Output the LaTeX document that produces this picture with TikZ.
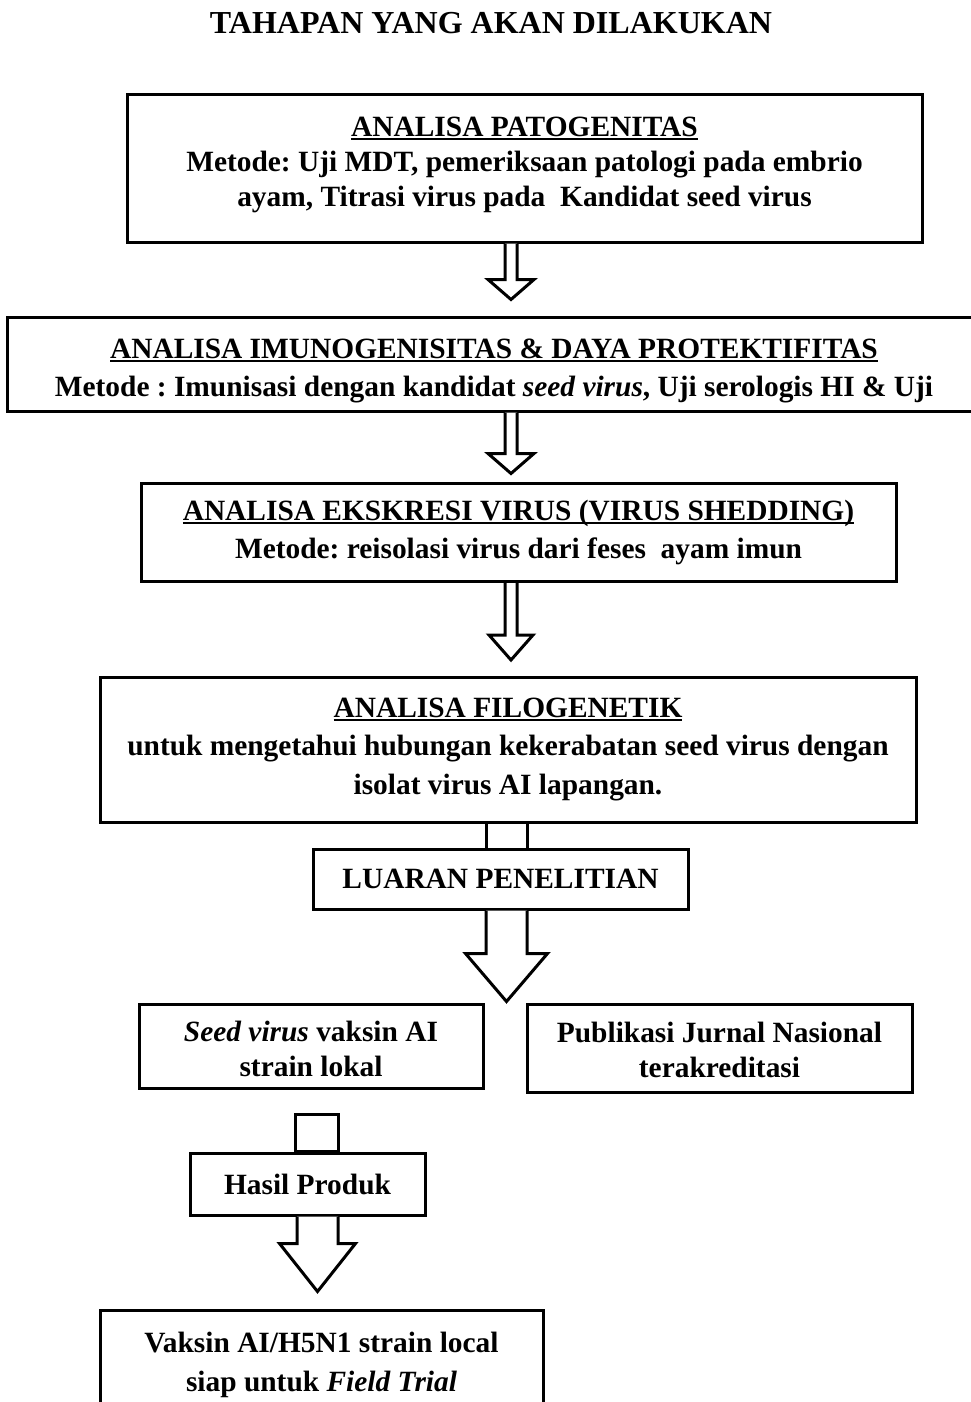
\documentclass[tikz,border=0pt]{standalone}
\usepackage{fontspec}
\setmainfont{Liberation Serif}
\frenchspacing
\usetikzlibrary{positioning,calc}

% thick underline for the stage titles
\newcommand{\garis}[1]{\setbox0\hbox{#1}\rlap{\rule[-4pt]{\wd0}{2pt}}\box0}
% hollow block arrow below a node: start node, x, shaft half width, head half width, shaft length, head length
\newcommand{\hollowarrow}[6]{%
  \draw[arrowline, shift={(#1.south -| #2,0)}]
    (-#3,0) -- (-#3,#5) -- (-#4,#5) -- (0,#5+#6) -- (#4,#5) -- (#3,#5) -- (#3,0);}

\begin{document}
\begin{tikzpicture}[x=1pt, y=-1pt,
      every node/.style={font=\bfseries\fontsize{29.4}{38.5}\selectfont, align=center},
      tight/.style={font=\bfseries\fontsize{29.4}{35}\selectfont},
      stage/.style={draw, line width=3pt, inner sep=0pt},
      arrowline/.style={draw, line width=3pt, line join=miter, fill=white}
  ]
    \useasboundingbox (0,0) rectangle (971,1402);
    \clip (0,0) rectangle (971,1402);

    \node[font=\bfseries\fontsize{32}{38}\selectfont] (judul) at (491,23) {TAHAPAN YANG AKAN DILAKUKAN};

    \node[stage, tight, minimum width=795, minimum height=147] (patogen) at (524.5,168.5)
      {\garis{ANALISA PATOGENITAS}\\Metode: Uji MDT, pemeriksaan patologi pada embrio\\ayam, Titrasi virus pada \ Kandidat seed virus\vrule width0pt depth14pt};
    \node[stage, minimum width=974, minimum height=94] (imuno) at (494,364)
      {\vrule width0pt height33pt\garis{ANALISA IMUNOGENISITAS \& DAYA PROTEKTIFITAS}\\Metode : Imunisasi dengan kandidat \textit{seed virus}, Uji serologis HI \& Uji};
    \node[stage, minimum width=755, minimum height=98] (ekskresi) at (518.5,532.5)
      {\garis{ANALISA EKSKRESI VIRUS (VIRUS SHEDDING)}\\Metode: reisolasi virus dari feses \ ayam imun};
    \node[stage, minimum width=816, minimum height=145] (filogen) at (508,749.5)
      {\garis{ANALISA FILOGENETIK}\\untuk mengetahui hubungan kekerabatan seed virus dengan\\isolat virus AI lapangan.};
    \node[stage, minimum width=375, minimum height=60] (luaran) at (500.5,879) {LUARAN PENELITIAN};
    \node[stage, tight, minimum width=344, minimum height=84] (seedvirus) at (311,1046)
      {\vrule width0pt height26pt\textit{Seed virus} vaksin AI\\strain lokal};
    \node[stage, tight, minimum width=385, minimum height=88] (publikasi) at (719.5,1048)
      {\vrule width0pt height24pt Publikasi Jurnal Nasional\\terakreditasi};
    \node[stage, minimum width=235, minimum height=62] (hasil) at (307.5,1184) {Hasil Produk};
    \node[stage, minimum width=443, minimum height=110] (vaksin) at (321.5,1365)
      {Vaksin AI/H5N1 strain local\\siap untuk \textit{Field Trial}};

    % arrows between the stages
    \hollowarrow{patogen}{511}{6}{23}{36}{20}
    \hollowarrow{imuno}{511}{6}{23}{41}{20}
    \hollowarrow{ekskresi}{511}{6}{22}{52}{25}
    \draw[arrowline, fill=none] (486,0 |- filogen.south) -- (486,0 |- luaran.north)
                                (527,0 |- filogen.south) -- (527,0 |- luaran.north);
    \hollowarrow{luaran}{506.5}{20.5}{41}{43}{48}
    \draw[arrowline] ($(seedvirus.south -| 295,0)+(0,25)$) rectangle (hasil.north -| 338,0);
    \hollowarrow{hasil}{317.5}{20.5}{38}{27}{48}
  \end{tikzpicture}
\end{document}
